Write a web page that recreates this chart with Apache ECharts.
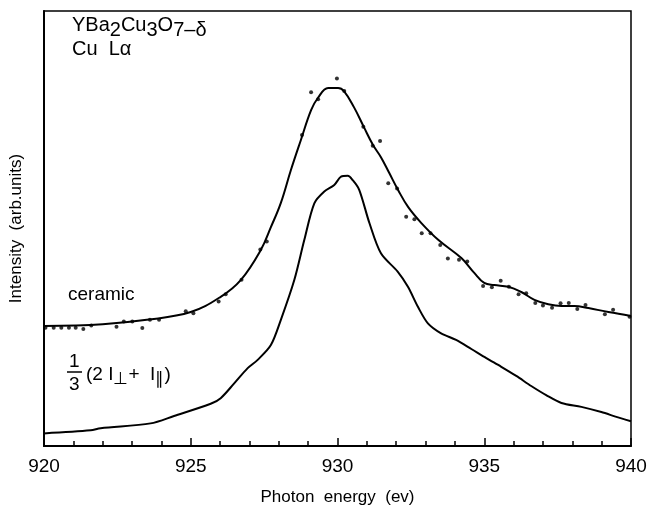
<!DOCTYPE html>
<html><head><meta charset="utf-8">
<script src="https://cdn.jsdelivr.net/npm/echarts@6/dist/echarts.min.js"></script>
<style>html,body{margin:0;padding:0;background:#fff}#c{width:647px;height:506px}</style>
</head><body><div id="c"></div>
<script>
// x: photon energy (eV); y: intensity (arb. units, 0..100)
const xTicks = [920, 925, 930, 935, 940];
const ceramicDotsX = [920.05,920.33,920.59,920.85,921.08,921.34,921.61,922.47,922.72,923.01,923.35,923.61,923.92,924.83,925.09,925.95,926.19,926.73,927.37,927.59,928.79,929.10,929.34,929.98,930.23,930.88,931.20,931.45,931.73,932.03,932.34,932.62,932.87,933.17,933.50,933.76,934.14,934.42,934.96,935.26,935.56,935.84,936.17,936.43,936.74,937.00,937.31,937.60,937.88,938.17,938.45,939.11,939.39,939.95];
const ceramicDotsY = [27.2,27.2,27.2,27.2,27.2,26.9,27.7,27.4,28.6,28.6,27.1,29.0,29.0,31.0,30.5,33.2,34.9,38.2,45.2,47.0,71.5,81.3,79.7,84.5,81.6,73.4,69.0,70.1,60.4,59.2,52.7,52.1,48.9,48.9,46.2,43.1,42.8,42.4,36.8,36.5,38.0,36.6,34.9,35.1,32.9,32.3,31.8,32.8,32.9,31.5,32.4,30.3,31.3,29.7];
const ceramicFitX = [920,922,923.5,925,926.02,926.71,927.39,927.73,928.07,928.41,928.75,929.10,929.33,929.68,930.02,930.22,930.56,930.90,931.21,931.48,931.76,932.06,932.41,932.85,933.43,934.22,934.66,935.00,935.34,935.82,936.26,936.71,937.18,937.63,938.07,938.55,939.23,940];
const ceramicFitY = [27.6,28.0,29.0,30.8,34.3,38.2,45.1,50.3,55.9,63.4,70.3,77.2,80.0,82.3,82.3,81.6,77.9,73.3,69.2,66.4,62.8,58.9,54.9,51.3,47.4,43.2,39.8,37.5,37.0,36.6,35.4,33.6,32.6,32.2,32.2,31.7,30.8,29.9];
const avgX = [920.0,921.59,921.93,923.63,924.43,925.68,926.02,926.48,926.94,927.28,927.73,928.07,928.53,928.87,929.21,929.55,929.89,930.12,930.35,930.52,930.74,931.09,931.48,932.05,932.40,932.74,933.08,933.53,934.04,934.56,935.07,935.58,936.09,936.60,937.11,937.63,938.31,938.99,939.50,940.0];
const avgY = [2.9,3.6,4.1,5.2,6.9,9.7,11.0,14.4,17.9,19.8,23.2,29.0,38.2,47.4,55.8,58.5,60.0,61.9,62.1,61.1,58.9,51.2,44.3,40.1,36.6,32.0,28.2,25.9,24.4,22.3,20.2,18.2,16.1,13.8,11.7,9.9,9.0,7.8,6.7,5.7];

const zip = (a, b) => a.map((v, i) => [v, b[i]]);
const FONT = 'Liberation Sans, Arial, sans-serif';
const chart = echarts.init(document.getElementById('c'), null, {renderer: 'canvas'});
chart.setOption({
  animation: false,
  backgroundColor: '#fff',
  grid: {left: 44, right: 16, top: 11, bottom: 60, outerBoundsMode: 'none', containLabel: false,
         show: true, borderColor: '#000', borderWidth: 1.5, backgroundColor: 'transparent'},
  xAxis: {
    type: 'value', min: 920, max: 940, interval: 5,
    name: 'Photon  energy  (ev)', nameLocation: 'middle', nameGap: 43,
    nameTextStyle: {fontFamily: FONT, fontSize: 17, color: '#000'},
    axisLine: {show: true, onZero: false, lineStyle: {color: '#000', width: 2}},
    axisTick: {show: true, inside: true, length: 8, lineStyle: {color: '#000', width: 1.5}},
    minorTick: {show: true, splitNumber: 5, length: 5, lineStyle: {color: '#000', width: 1.5}},
    axisLabel: {fontFamily: FONT, fontSize: 19, color: '#000', margin: 11, formatter: v => xTicks.includes(v) ? String(v) : ''},
    splitLine: {show: false}
  },
  yAxis: {
    type: 'value', min: 0, max: 100,
    name: 'Intensity  (arb.units)', nameLocation: 'middle', nameGap: 19, nameRotate: 90,
    nameTextStyle: {fontFamily: FONT, fontSize: 17, color: '#000'},
    axisLine: {show: true, lineStyle: {color: '#000', width: 2}},
    axisTick: {show: false}, axisLabel: {show: false}, splitLine: {show: false}
  },
  series: [
    {type: 'line', data: zip(ceramicFitX, ceramicFitY), smooth: 0.4, showSymbol: false,
     lineStyle: {color: '#000', width: 2}},
    {type: 'scatter', data: zip(ceramicDotsX, ceramicDotsY), symbolSize: 4,
     itemStyle: {color: '#000'}},
    {type: 'line', data: zip(avgX, avgY), smooth: 0.3, showSymbol: false,
     lineStyle: {color: '#000', width: 2}}
  ],
  graphic: [
    {type: 'text', left: 72, top: 15, style: {
      text: 'YBa{s|2}Cu{s|3}O{s|7}{n|\u2013\u03b4}',
      font: '20px ' + FONT, fill: '#000',
      rich: {s: {fontSize: 20, fontFamily: FONT, padding: [11, 0, 0, 0], fill: '#000'},
             n: {fontSize: 20, fontFamily: FONT, padding: [11, 0, 0, 0], fill: '#000'}}
    }},
    {type: 'text', left: 72, top: 39, style: {text: 'Cu  L\u03b1', font: '20px ' + FONT, fill: '#000'}},
    {type: 'text', left: 68, top: 285, style: {text: 'ceramic', font: '19px ' + FONT, fill: '#000'}},
    {type: 'text', left: 69, top: 352, style: {text: '1', font: '19px ' + FONT, fill: '#000'}},
    {type: 'line', shape: {x1: 67, y1: 372, x2: 82, y2: 372}, style: {stroke: '#000', lineWidth: 1.5}},
    {type: 'text', left: 69, top: 375, style: {text: '3', font: '19px ' + FONT, fill: '#000'}},
    {type: 'text', left: 86, top: 365, style: {
      text: '(2 I{s|\u22a5}+  I{s|\u2225})', font: '19px ' + FONT, fill: '#000',
      rich: {s: {fontSize: 17, fontFamily: FONT, padding: [10, 0, 0, 0], fill: '#000'}}
    }}
  ]
});
</script></body></html>
